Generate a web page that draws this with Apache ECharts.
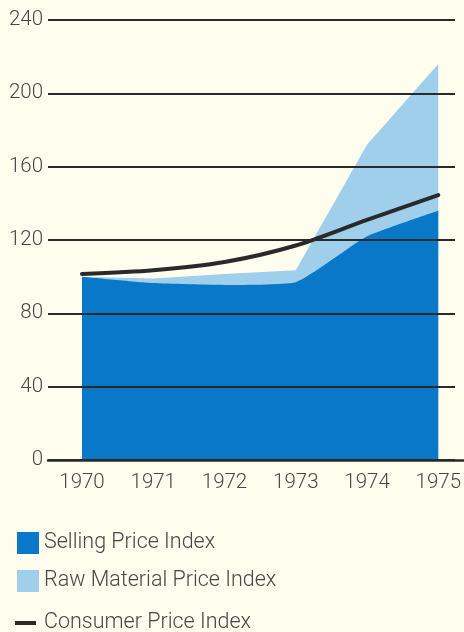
<!DOCTYPE html>
<html>
<head>
<meta charset="utf-8">
<script src="https://cdn.jsdelivr.net/npm/echarts@6/dist/echarts.min.js"></script>
<style>
  html, body { margin: 0; padding: 0; background: #fffdee; }
  #chart { width: 464px; height: 632px; }
</style>
</head>
<body>
<div id="chart"></div>
<script>
// Price indices, 1970 = 100
const years = ['1970', '1971', '1972', '1973', '1974', '1975'];
const sellingPrice = [100, 96.5, 95.5, 97, 122, 136];
const rawMaterialPrice = [100, 99, 101.5, 103.5, 172, 216];
const consumerPrice = [101.5, 103.5, 108, 117, 131, 144.5];
const yTicks = [0, 40, 80, 120, 160, 200, 240];

const DARK_BLUE = '#0a78c8';
const LIGHT_BLUE = '#9fcfeb';
const INK = '#2a2a2a';
const TEXT = '#474747';
const FONT = 'Roboto';

const chart = echarts.init(document.getElementById('chart'), null, { renderer: 'canvas' });

const legendText = { color: TEXT, fontFamily: FONT, fontWeight: 300, fontSize: 21.5 };

chart.setOption({
  backgroundColor: '#fffdee',
  animation: false,
  grid: [
    // data area
    { left: 82, right: 25, top: 20, bottom: 172 },
    // horizontal rules and value labels, drawn over the areas
    { left: 48, right: 9, top: 20, bottom: 172 },
    // baseline
    { left: 48, right: 0, top: 20, bottom: 172 }
  ],
  xAxis: [
    {
      gridIndex: 0, type: 'category', data: years, boundaryGap: false,
      axisLine: { show: false }, axisTick: { show: false }, splitLine: { show: false },
      axisLabel: { color: TEXT, fontFamily: FONT, fontWeight: 300, fontSize: 20.5, margin: 12 }
    },
    { gridIndex: 1, type: 'value', min: 0, max: 1, show: false },
    {
      gridIndex: 2, type: 'value', min: 0, max: 1, position: 'bottom', z: 10,
      axisLine: { show: true, onZero: false, lineStyle: { color: INK, width: 2.5 } },
      axisTick: { show: false }, axisLabel: { show: false }, splitLine: { show: false }
    }
  ],
  yAxis: [
    { gridIndex: 0, type: 'value', min: 0, max: 240, interval: 40, show: false },
    {
      gridIndex: 1, type: 'value', min: 0, max: 240, interval: 40, z: 10,
      axisLine: { show: false }, axisTick: { show: false },
      splitLine: { show: true, lineStyle: { color: INK, width: 2 } },
      axisLabel: {
        color: TEXT, fontFamily: FONT, fontWeight: 300, fontSize: 20.5, margin: 5,
        formatter: v => (yTicks.includes(v) ? String(v) : '')
      }
    },
    { gridIndex: 2, type: 'value', min: 0, max: 240, show: false }
  ],
  legend: [
    {
      data: ['Selling Price Index'], orient: 'vertical', left: 12, top: 527,
      itemWidth: 22, itemHeight: 22, icon: 'rect', textStyle: legendText
    },
    {
      data: ['Raw Material Price Index'], orient: 'vertical', left: 12, top: 565,
      itemWidth: 22, itemHeight: 22, icon: 'rect', textStyle: legendText
    },
    {
      data: ['Consumer Price Index'], orient: 'vertical', left: 10, top: 607,
      itemWidth: 21, itemHeight: 4, icon: 'rect',
      textStyle: Object.assign({}, legendText, { padding: [0, 0, 0, 3] })
    }
  ],
  series: [
    {
      name: 'Raw Material Price Index', type: 'line', xAxisIndex: 0, yAxisIndex: 0,
      data: rawMaterialPrice, symbol: 'none', z: 1,
      lineStyle: { width: 0 }, itemStyle: { color: LIGHT_BLUE },
      areaStyle: { color: LIGHT_BLUE, opacity: 1 }
    },
    {
      name: 'Selling Price Index', type: 'line', xAxisIndex: 0, yAxisIndex: 0,
      data: sellingPrice, symbol: 'none', z: 2, smooth: 0.15,
      lineStyle: { width: 0 }, itemStyle: { color: DARK_BLUE },
      areaStyle: { color: DARK_BLUE, opacity: 1 }
    },
    {
      name: 'Consumer Price Index', type: 'line', xAxisIndex: 0, yAxisIndex: 0,
      data: consumerPrice, symbol: 'none', z: 12, zlevel: 1, smooth: 0.3,
      lineStyle: { color: INK, width: 4, cap: 'round' }, itemStyle: { color: INK }
    }
  ]
});
</script>
</body>
</html>
